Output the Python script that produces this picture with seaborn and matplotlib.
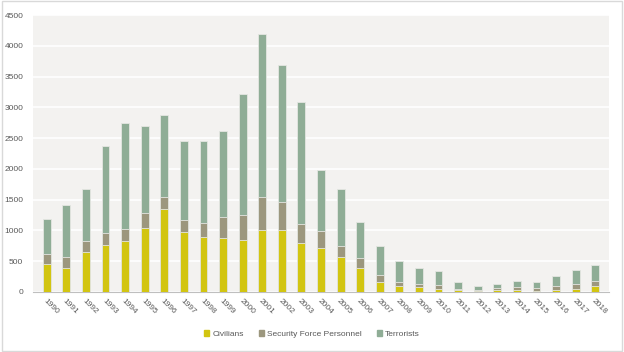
import pandas as pd
import matplotlib.pyplot as plt
import matplotlib.patches as mpatches
import seaborn as sns

# %%

years = [str(y) for y in range(1990, 2019)]
civilians = [460, 389, 644, 757, 833, 1039, 1347, 979, 893, 871,
             849, 1011, 1011, 800, 714, 568, 389, 168, 92, 81,
             49, 38, 22, 27, 38, 16, 27, 54, 92]
security = [162, 174, 189, 195, 184, 238, 189, 195, 232, 351,
            406, 525, 455, 309, 281, 184, 163, 102, 76, 50,
            70, 11, 16, 38, 38, 43, 65, 81, 86]
terrorists = [563, 854, 838, 1412, 1725, 1422, 1336, 1271, 1320, 1401,
              1958, 2651, 2218, 1974, 979, 919, 589, 471, 340, 258,
              222, 113, 54, 70, 102, 103, 162, 222, 266]

# %%

df = pd.DataFrame({'year': years,
                   'civ': civilians,
                   'sf': security,
                   'terr': terrorists})
df['civ_sf'] = df['civ'] + df['sf']
df['total'] = df['civ_sf'] + df['terr']

colors = {'Civilians': '#D2C511',
          'Security Force Personnel': '#9C977E',
          'Terrorists': '#8FAD96'}

# %%

sns.set_style('white')
plt.rcParams['font.family'] = ['Liberation Sans', 'DejaVu Sans']

fig = plt.figure(figsize=(6.24, 3.52), dpi=100)
ax = fig.add_axes([33 / 624, 1 - 292 / 352, 576 / 624, 277 / 352])
ax.set_facecolor('#F3F2F0')

for col, name in [('total', 'Terrorists'),
                  ('civ_sf', 'Security Force Personnel'),
                  ('civ', 'Civilians')]:
    sns.barplot(data=df, x='year', y=col, color=colors[name],
                width=0.4, saturation=1, edgecolor='#E4E6E2',
                linewidth=0.6, ax=ax, zorder=3)

ax.set_ylim(0, 4500)
ax.set_yticks(range(0, 4501, 500))
ax.set_xlim(-0.7, len(years) - 0.3)
ax.grid(axis='y', color='white', linewidth=1.2, zorder=0)
ax.set_axisbelow(True)
for s in ['top', 'right', 'left']:
    ax.spines[s].set_visible(False)
ax.spines['bottom'].set_color('#BFBFBF')
ax.spines['bottom'].set_linewidth(0.8)

ax.set_xlabel('')
ax.set_ylabel('')
ax.tick_params(axis='both', length=0, colors='#595959')
ax.tick_params(axis='y', labelsize=6, pad=7)
ax.tick_params(axis='x', labelsize=6, pad=4)
plt.setp(ax.get_xticklabels(), rotation=-45, ha='left',
         rotation_mode='anchor')

handles = [mpatches.Patch(color=c, label=n) for n, c in colors.items()]
fig.legend(handles=handles, loc='center', bbox_to_anchor=(0.5, 1 - 334 / 352),
           ncol=3, frameon=False, fontsize=6, labelcolor='#595959',
           handlelength=0.6, handleheight=0.6, handletextpad=0.4,
           columnspacing=1.8)

fig.patches.append(mpatches.Rectangle((0.003, 0.004), 0.994, 0.992,
                                      transform=fig.transFigure,
                                      fill=False, edgecolor='#D9D9D9',
                                      linewidth=1.0))

plt.savefig('out.png', dpi=100)
